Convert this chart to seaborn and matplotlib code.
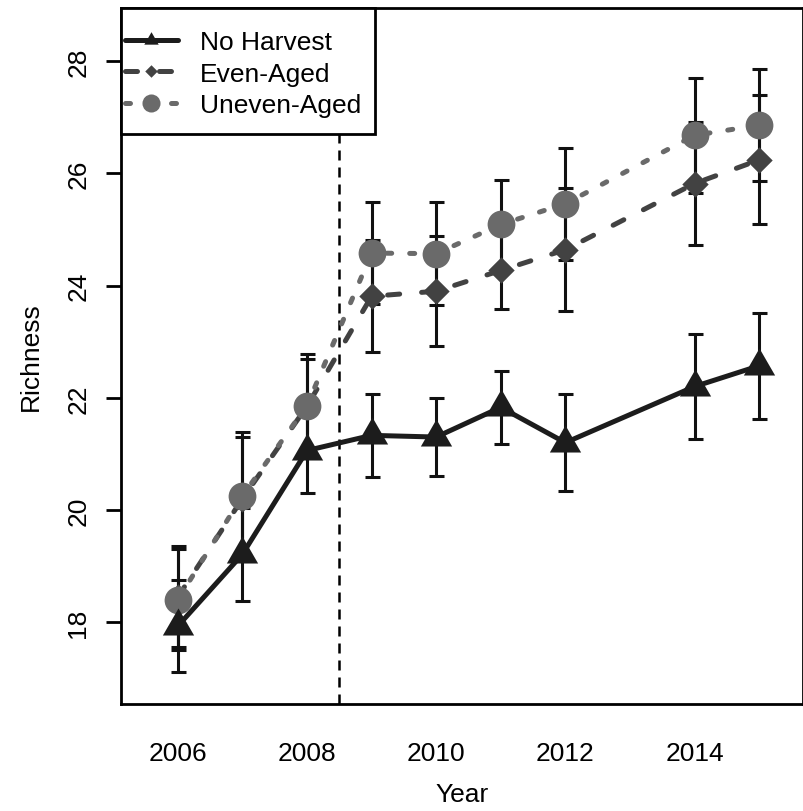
import matplotlib
matplotlib.use('Agg')
import matplotlib.pyplot as plt
import seaborn as sns
from matplotlib.lines import Line2D
from matplotlib.patches import Rectangle

sns.set_style("ticks")
plt.rcParams['font.family'] = ['Liberation Sans', 'DejaVu Sans']
plt.rcParams['text.color'] = 'black'
plt.rcParams['axes.labelcolor'] = 'black'

# survey years (2013 not sampled)
years = [2006, 2007, 2008, 2009, 2010, 2011, 2012, 2014, 2015]

no_harvest = [17.93, 19.21, 21.06, 21.33, 21.30, 21.83, 21.20, 22.20, 22.57]
no_harvest_se = [0.82, 0.83, 0.76, 0.74, 0.70, 0.65, 0.87, 0.93, 0.94]

even_aged = [18.45, 20.20, 21.85, 23.81, 23.90, 24.27, 24.64, 25.82, 26.24]
even_aged_se = [0.90, 1.10, 0.85, 1.00, 0.98, 0.69, 1.10, 1.10, 1.15]

uneven_aged = [18.40, 20.25, 21.86, 24.58, 24.57, 25.09, 25.46, 26.68, 26.86]
uneven_aged_se = [0.90, 1.14, 0.92, 0.91, 0.92, 0.80, 1.00, 1.02, 1.00]

labels = ["No Harvest", "Even-Aged", "Uneven-Aged"]
year_ticks = [2006, 2008, 2010, 2012, 2014]
richness_ticks = [18, 20, 22, 24, 26, 28]
treatment_year = 2008.5

# R-like markers (pch 17 triangle, pch 18 diamond)
tri = [(0, 1), (-0.866, -0.5), (0.866, -0.5), (0, 1)]
dia = [(0, 1), (1, 0), (0, -1), (-1, 0), (0, 1)]

FS = 19
colors = ['#1c1c1c', '#424242', '#6a6a6a']
styles = ['-', (0, (2.4, 4.4)), (0, (1.0, 3.6))]
markers = [tri, dia, 'o']
msizes = [26, 19, 20]
legend_ms = [12, 9, 13]

fig = plt.figure(figsize=(8.04, 8.12), dpi=100)
ax = fig.add_axes([121 / 804, 107 / 812, 682 / 804, 696 / 812])

series = [(no_harvest, no_harvest_se), (even_aged, even_aged_se), (uneven_aged, uneven_aged_se)]

# error bars underneath everything
for vals, se in series:
    ax.errorbar(years, vals, yerr=se, fmt='none', ecolor='#111111', elinewidth=2.2,
                capsize=5.4, capthick=2.2, zorder=2)

zorders = [5, 3, 4]
for i, (vals, se) in enumerate(series):
    sns.lineplot(x=years, y=vals, ax=ax, color=colors[i], linewidth=3.6,
                 linestyle=styles[i], dash_capstyle='round', marker=markers[i],
                 markersize=msizes[i], markeredgewidth=0, zorder=zorders[i])

ax.axvline(treatment_year, color='black', lw=1.8, linestyle=(0, (4, 2.8)), zorder=1)

ax.set_xlim(2005.12, 2015.68)
ax.set_ylim(16.54, 28.95)
ax.set_xticks(year_ticks)
ax.set_xticklabels([str(y) for y in year_ticks], fontsize=FS)
ax.set_yticks(richness_ticks)
ax.set_yticklabels([str(v) for v in richness_ticks], fontsize=FS, rotation=90, va='center')
ax.tick_params(axis='x', length=0, pad=27, colors='black')
ax.tick_params(axis='y', length=11, width=2.0, pad=11, direction='out', colors='black')

for sp in ax.spines.values():
    sp.set_visible(True)
    sp.set_color('black')
    sp.set_linewidth(2.0)

ax.set_xlabel("Year", fontsize=FS, color='black')
ax.set_ylabel("Richness", fontsize=FS, color='black')
ax.xaxis.set_label_coords(0.5, -0.112)
ax.yaxis.set_label_coords(-0.114, 0.5)

# legend box in the top left corner
ax.add_patch(Rectangle((0, (705 - 135) / 696), (375 - 121) / 682, 1 - (705 - 135) / 696,
                       transform=ax.transAxes, facecolor='white', edgecolor='black',
                       lw=2.0, zorder=6, clip_on=False))
handles = [Line2D([], [], color=colors[i], lw=3.6, linestyle=styles[i],
                  dash_capstyle='round', marker=markers[i], markersize=legend_ms[i],
                  markeredgewidth=0) for i in range(3)]
leg = ax.legend(handles, labels, loc='upper left', bbox_to_anchor=(0.006, 0.968),
                frameon=False, fontsize=FS, borderpad=0, borderaxespad=0,
                handlelength=2.0, handletextpad=0.85, labelspacing=0.28)
for t in leg.get_texts():
    t.set_color('black')
leg.set_zorder(7)

fig.savefig("out.png", dpi=100)
